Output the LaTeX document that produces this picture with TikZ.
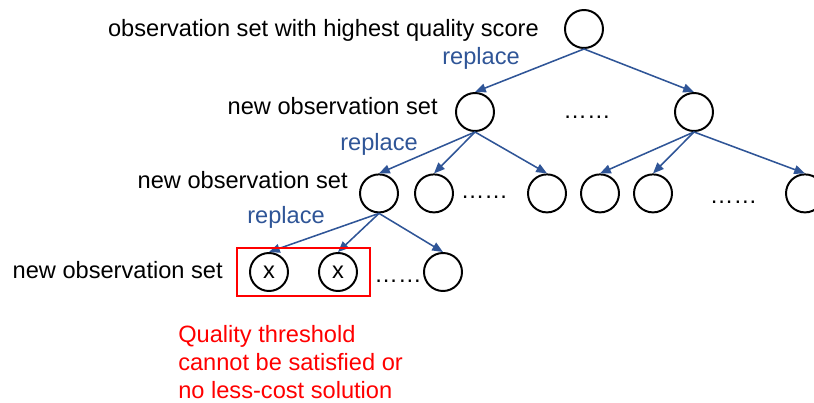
\documentclass[tikz,border=0pt]{standalone}
\usepackage{fontspec}
\setmainfont{Liberation Sans}
\usepackage{tikz}
\usetikzlibrary{positioning}
\usetikzlibrary{arrows.meta, fit}
\definecolor{linkblue}{RGB}{47,85,151}
\definecolor{failred}{RGB}{255,0,0}

\begin{document}
\begin{tikzpicture}[
  obs/.style={circle,draw=black,line width=1.4pt,minimum size=0.95cm,inner sep=0pt,font=\fontsize{16.8}{20}\selectfont},
  lbl/.style={font=\fontsize{16.8}{20}\selectfont,inner sep=0pt},
  rep/.style={lbl,text=linkblue},
  link/.style={draw=linkblue,line width=1.1pt,-{Triangle[length=0.27cm,width=0.22cm]}}
]
\useasboundingbox (0,0) rectangle (20.35,10.075);

\node[obs] (top) at (14.6,9.35) {};
\node[obs] (n1) at (11.875,7.275) {};
\node[obs] (n2) at (17.35,7.275) {};
\node[obs] (n11) at (9.475,5.24) {};
\node[obs] (n12) at (10.85,5.24) {};
\node[obs] (n13) at (13.675,5.24) {};
\node[obs] (n21) at (15.0,5.24) {};
\node[obs] (n22) at (16.325,5.24) {};
\node[obs] (n23) at (20.125,5.24) {};
\node[obs] (x1) at (6.725,3.275) {x};
\node[obs] (x2) at (8.45,3.275) {x};
\node[obs] (n113) at (11.075,3.275) {};

\node[lbl,anchor=base east] (l0) at (13.475,9.15) {observation set with highest quality score};
\node[lbl,anchor=base east] (l1) at (10.95,7.2) {new observation set};
\node[lbl,anchor=base east] (l2) at (8.7,5.35) {new observation set};
\node[lbl,anchor=base east] (l3) at (5.575,3.1) {new observation set};

\node[rep,anchor=base west] (r0) at (11.05,8.45) {replace};
\node[rep,anchor=base west] (r1) at (8.5,6.3) {replace};
\node[rep,anchor=base west] (r2) at (6.175,4.475) {replace};

\node[lbl,anchor=base] (d1) at (14.675,7.1) {……};
\node[lbl,anchor=base] (d2) at (12.11,5.1) {……};
\node[lbl,anchor=base] (d3) at (18.34,4.975) {……};
\node[lbl,anchor=base] (d4) at (9.95,3.0) {……};

\draw[link] (top.south) -- (n1.north);
\draw[link] (top.south) -- (n2.north);
\draw[link] (n1.south) -- (n11.north);
\draw[link] (n1.south) -- (n12.north);
\draw[link] (n1.south) -- (n13.north);
\draw[link] (n2.south) -- (n21.north);
\draw[link] (n2.south) -- (n22.north);
\draw[link] (n2.south) -- (n23.north);
\draw[link] (n11.south) -- (x1.north);
\draw[link] (n11.south) -- (x2.north);
\draw[link] (n11.south) -- (n113.north);

\node[draw=failred,line width=2pt,fit=(x1)(x2),inner xsep=0.3cm,inner ysep=0.1cm] (fail) {};
\node[lbl,text=failred,align=left,anchor=north west] (why) at (4.45,1.95) {Quality threshold\\cannot be satisfied or\\no less-cost solution};

\end{tikzpicture}
\end{document}
